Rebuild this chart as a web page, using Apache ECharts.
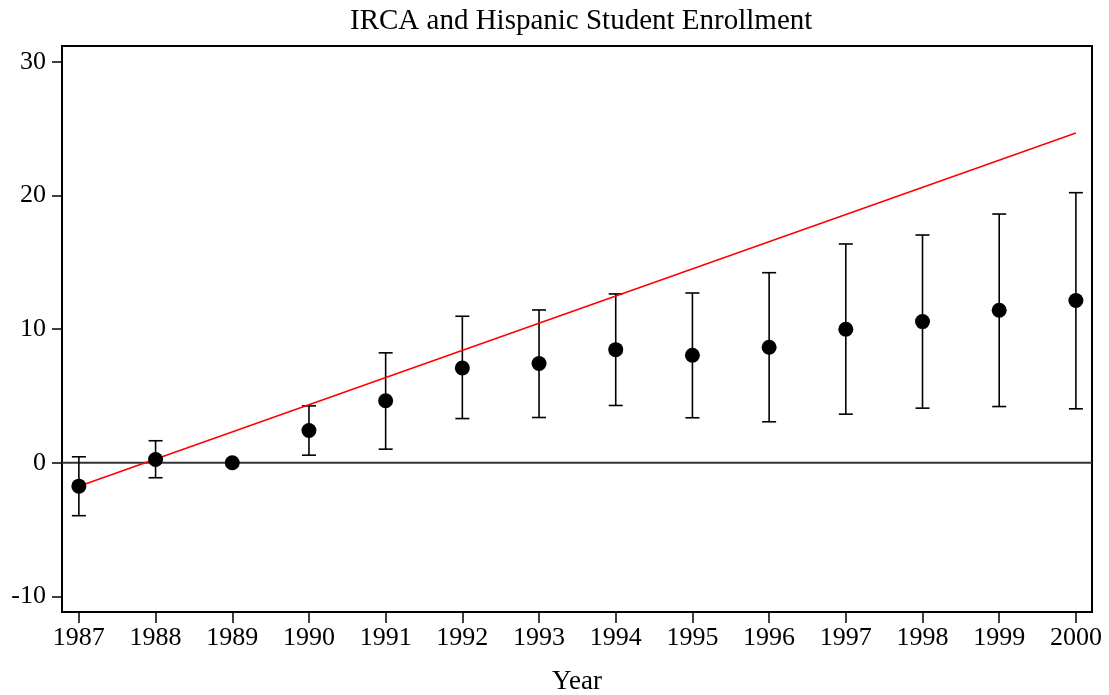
<!DOCTYPE html>
<html>
<head>
<meta charset="utf-8">
<script src="https://cdn.jsdelivr.net/npm/echarts@6/dist/echarts.min.js"></script>
<style>
  html, body { margin: 0; padding: 0; background: #fff; }
  #main { width: 1109px; height: 695px; }
</style>
</head>
<body>
<div id="main"></div>
<script>
  // years and estimates
  const years = [1987, 1988, 1989, 1990, 1991, 1992, 1993, 1994, 1995, 1996, 1997, 1998, 1999, 2000];
  const estimates = [-1.75, 0.25, 0, 2.42, 4.64, 7.1, 7.43, 8.47, 8.05, 8.65, 10.0, 10.57, 11.42, 12.15];
  const upper = [0.45, 1.65, null, 4.26, 8.23, 10.97, 11.44, 12.64, 12.71, 14.23, 16.38, 17.05, 18.62, 20.22];
  const lower = [-3.96, -1.12, null, 0.57, 1.02, 3.31, 3.39, 4.29, 3.37, 3.07, 3.64, 4.09, 4.21, 4.04];
  // red trend line end points
  const trendX = [1987, 2000];
  const trendY = [-1.75, 24.68];
  const yTicks = [-10, 0, 10, 20, 30];

  const font = '"Liberation Serif", "DejaVu Serif", serif';

  let main = document.getElementById('main');
  let myechart = echarts.init(main);

  let ciData = [];
  for (let i = 0; i < years.length; i++) {
    if (upper[i] != null) ciData.push([years[i], lower[i], upper[i]]);
  }

  let option = {
    animation: false,
    backgroundColor: '#fff',
    title: {
      text: 'IRCA and Hispanic Student Enrollment',
      left: 345,
      top: 2,
      textStyle: { fontFamily: font, fontSize: 29, fontWeight: 'normal', color: '#000' }
    },
    grid: {
      left: 62, right: 17, top: 46, bottom: 83,
      outerBoundsMode: 'none',
      containLabel: false,
      show: true, borderColor: '#000', borderWidth: 2, backgroundColor: '#fff'
    },
    xAxis: {
      type: 'value',
      min: 1986.78,
      max: 2000.21,
      name: 'Year',
      nameLocation: 'middle',
      nameGap: 56,
      nameTextStyle: { fontFamily: font, fontSize: 27, color: '#000' },
      axisLine: { show: true, onZero: false, lineStyle: { color: '#000', width: 2 } },
      axisTick: { show: true, length: 11, customValues: years, lineStyle: { color: '#000', width: 1.5 } },
      axisLabel: {
        customValues: years,
        margin: 13,
        fontFamily: font, fontSize: 26, color: '#000',
        formatter: v => String(Math.round(v))
      },
      splitLine: { show: false }
    },
    yAxis: {
      type: 'value',
      min: -11.17,
      max: 31.2,
      axisLine: { show: true, onZero: false, lineStyle: { color: '#000', width: 2 } },
      axisTick: { show: true, length: 10, customValues: yTicks, lineStyle: { color: '#000', width: 1.5 } },
      axisLabel: {
        customValues: yTicks,
        margin: 16,
        fontFamily: font, fontSize: 26, color: '#000'
      },
      splitLine: { show: false }
    },
    series: [
      {
        type: 'line',
        data: [[1986.78, 0], [2000.21, 0]],
        symbol: 'none',
        lineStyle: { color: '#333', width: 2 },
        silent: true,
        z: 1
      },
      {
        type: 'custom',
        data: ciData,
        renderItem: function (params, api) {
          let x = api.value(0);
          let lo = api.coord([x, api.value(1)]);
          let hi = api.coord([x, api.value(2)]);
          let w = 7;
          let style = { stroke: '#000', lineWidth: 1.6 };
          return {
            type: 'group',
            children: [
              { type: 'line', shape: { x1: lo[0], y1: lo[1], x2: hi[0], y2: hi[1] }, style: style },
              { type: 'line', shape: { x1: lo[0] - w, y1: lo[1], x2: lo[0] + w, y2: lo[1] }, style: style },
              { type: 'line', shape: { x1: hi[0] - w, y1: hi[1], x2: hi[0] + w, y2: hi[1] }, style: style }
            ]
          };
        },
        z: 2
      },
      {
        type: 'line',
        data: trendX.map((x, i) => [x, trendY[i]]),
        symbol: 'none',
        lineStyle: { color: '#ff0000', width: 1.6 },
        z: 3
      },
      {
        type: 'scatter',
        data: years.map((x, i) => [x, estimates[i]]),
        symbol: 'circle',
        symbolSize: 15,
        itemStyle: { color: '#000', opacity: 1 },
        z: 4
      }
    ]
  };
  myechart.setOption(option);
</script>
</body>
</html>
